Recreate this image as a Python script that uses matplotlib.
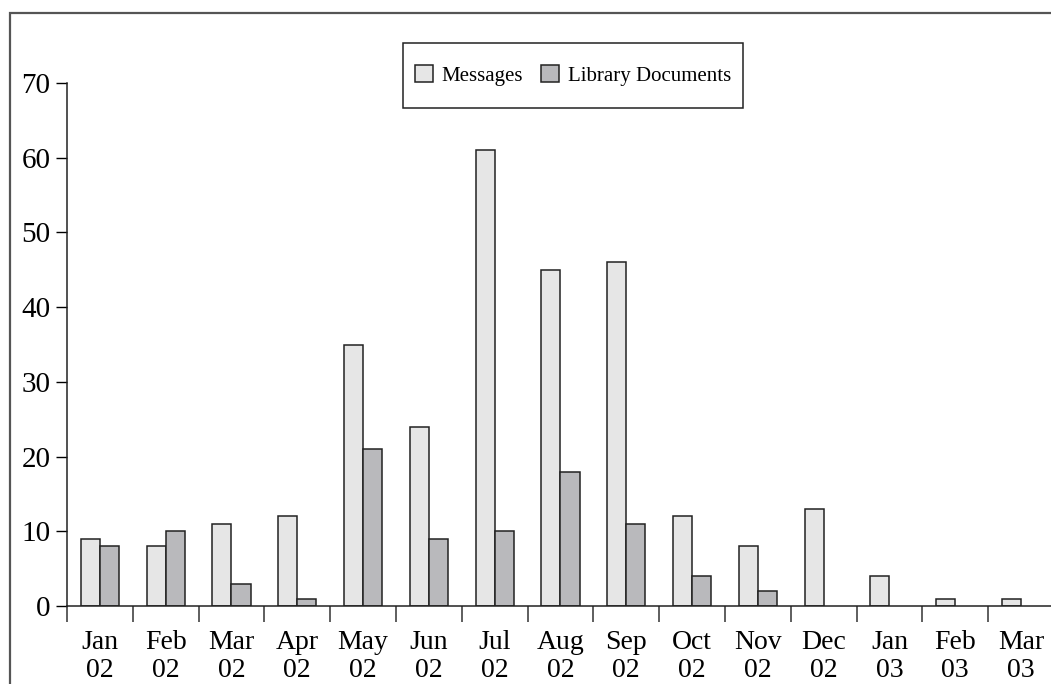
import numpy as np
import matplotlib.pyplot as plt
from matplotlib.patches import Rectangle

plt.rcParams['font.family'] = ['Liberation Serif', 'DejaVu Serif']

# Data
months = ['Jan\n02', 'Feb\n02', 'Mar\n02', 'Apr\n02', 'May\n02', 'Jun\n02', 'Jul\n02',
          'Aug\n02', 'Sep\n02', 'Oct\n02', 'Nov\n02', 'Dec\n02', 'Jan\n03', 'Feb\n03', 'Mar\n03']
messages = [9, 8, 11, 12, 35, 24, 61, 45, 46, 12, 8, 13, 4, 1, 1]
library_docs = [8, 10, 3, 1, 21, 9, 10, 18, 11, 4, 2, 0, 0, 0, 0]

W, H = 1051, 684
fig = plt.figure(figsize=(W / 100, H / 100), dpi=100)

# outer frame (cut off at right and bottom)
fig.add_artist(Rectangle((10 / W, -0.1), 1.2, 1 - 13 / H + 0.1, transform=fig.transFigure,
                         fill=False, edgecolor='#555555', linewidth=1.6))

x0, x1 = 67, 1054
ytop, ybot = 83, 606
ax = fig.add_axes([x0 / W, 1 - ybot / H, (x1 - x0) / W, (ybot - ytop) / H])
ax.patch.set_alpha(0)

x = np.arange(len(months))
bw = 0.29
# empty bars (value 0) get no outline, as in the original
edge_m = ['#222222' if v > 0 else 'none' for v in messages]
edge_l = ['#222222' if v > 0 else 'none' for v in library_docs]
ax.bar(x - bw / 2, messages, bw, color='#e6e6e6', edgecolor=edge_m, linewidth=1.1,
       label='Messages')
ax.bar(x + bw / 2, library_docs, bw, color='#b9b9bc', edgecolor=edge_l, linewidth=1.1,
       label='Library Documents')

ax.set_xlim(-0.5, len(months) - 0.5)
ax.set_ylim(0, 70)
ax.set_yticks(range(0, 71, 10))
ax.tick_params(axis='y', direction='out', length=8, width=1, pad=4, labelsize=21)

ax.set_xticks(x)
ax.set_xticklabels(months, fontsize=20, linespacing=1.2)
ax.set_xticks(np.arange(-0.5, len(months), 1), minor=True)
ax.tick_params(axis='x', which='major', length=0, pad=17)
ax.tick_params(axis='x', which='minor', direction='out', length=11.5, width=1.1, color='#333333')

for s in ['top', 'right']:
    ax.spines[s].set_visible(False)
for s in ['left', 'bottom']:
    ax.spines[s].set_linewidth(1.1)
    ax.spines[s].set_color('#222222')

# legend box: drawn separately so it can be taller than the entries need
lx0, lx1, ly0, ly1 = 403, 743, 43, 108
fig.add_artist(Rectangle((lx0 / W, 1 - ly1 / H), (lx1 - lx0) / W, (ly1 - ly0) / H,
                         transform=fig.transFigure, fill=False, edgecolor='#222222', linewidth=1.1))
leg = fig.legend(loc='center', bbox_to_anchor=((lx0 + lx1) / 2 / W, 1 - (ly0 + ly1) / 2 / H),
                 ncol=2, fontsize=15, frameon=False, borderpad=0,
                 handlelength=0.87, handleheight=0.87, handletextpad=0.43, columnspacing=0.85,
                 borderaxespad=0)
for h in leg.legend_handles:
    h.set_edgecolor('#222222')

fig.savefig('out.png', dpi=100)
